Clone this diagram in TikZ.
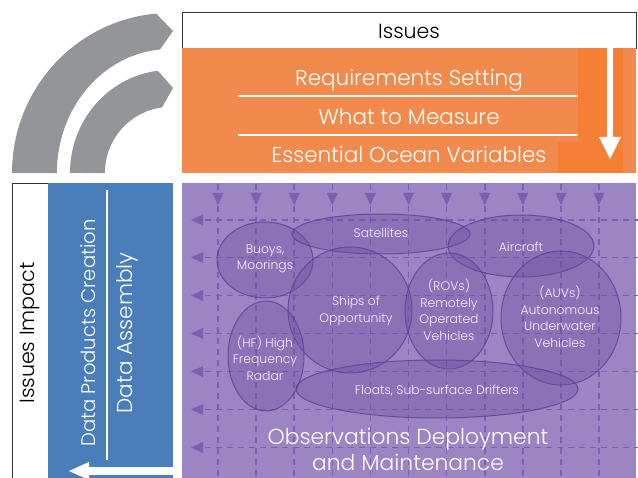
\documentclass[tikz,border=0pt]{standalone}
\usepackage{fontspec}
\setmainfont{Poppins}[UprightFont=* Light]
\usetikzlibrary{shapes.geometric}
\definecolor{orangeM}{HTML}{F18A4C}
\definecolor{orangeD}{HTML}{F57F35}
\definecolor{blueM}{HTML}{4A7EBB}
\definecolor{purpM}{HTML}{9D84C2}
\definecolor{gridC}{HTML}{7D5FB0}
\definecolor{ellF}{HTML}{6B4C9F}
\definecolor{ellD}{HTML}{5A3C92}
\definecolor{grayA}{HTML}{939598}
\definecolor{txtW}{HTML}{F4EFFA}
\begin{document}
\begin{tikzpicture}[x=1pt,y=-1pt,
  gridline/.style={gridC,line width=1.6pt,dash pattern=on 6pt off 5pt},
  gridtip/.style={fill=gridC,draw=none},
  blob/.style={ellipse,inner sep=0pt,fill=ellF,fill opacity=0.33,draw=ellD,draw opacity=0.75,line width=1pt},
  blobtxt/.style={text=txtW,font=\fontsize{12.4}{16.5}\selectfont,align=center,inner sep=0pt},
  bigtxt/.style={text=white,font=\fontsize{21.5}{26}\selectfont,inner sep=0pt},
  whitearrow/.style={draw=none,fill=white}]
\useasboundingbox (0,0) rectangle (638,478);
% gray arcs
\fill[grayA] (12,173) arc[start angle=180,end angle=265,x radius=158,y radius=160]
  -- (173,31) -- (160,49.5) arc[start angle=265,end angle=180,x radius=113,y radius=124] -- cycle;
\fill[grayA] (70,173) arc[start angle=180,end angle=263,x radius=100,y radius=103]
  -- (173,88) -- (162,107.5) arc[start angle=263,end angle=180,x radius=65,y radius=66] -- cycle;
% top boxes
\node[draw=black!80,line width=0.8pt,fill=white,minimum width=454pt,minimum height=36pt,anchor=north west,inner sep=0pt] (issues) at (182,12) {};
\node[font=\fontsize{20.5}{24}\selectfont,inner sep=0pt] (issuesT) at (409,31) {Issues};
\node[fill=orangeM,minimum width=454pt,minimum height=125pt,anchor=north west,inner sep=0pt] (orange) at (182,48) {};
\fill[orangeD] (578,48.5) rectangle (623,173);
\fill[orangeD] (558,142) rectangle (603,173);
\node[bigtxt] (req) at (409,80) {Requirements Setting};
\node[bigtxt] (what) at (409,117) {What to Measure};
\node[bigtxt] (eov) at (409,155) {Essential Ocean Variables};
\draw[white,line width=2pt] (238,96) -- (578,96);
\draw[white,line width=2pt] (238,135) -- (578,135);
\coordinate (dTop) at (610,48);
\coordinate (dTip) at (610,159);
\fill[white] (606.7,48) rectangle (613.3,137);
\fill[white] (599,137) -- (621,137) -- (dTip) -- cycle;
% left boxes
\node[draw=black!80,line width=0.8pt,fill=white,minimum width=36pt,minimum height=300pt,anchor=north west,inner sep=0pt] (impact) at (12,183) {};
\node[rotate=90,font=\fontsize{20.6}{24}\selectfont,inner sep=0pt] (impactT) at (30,333) {Issues Impact};
\node[fill=blueM,minimum width=125pt,minimum height=300pt,anchor=north west,inner sep=0pt] (blue) at (48,183) {};
\node[rotate=90,bigtxt,font=\fontsize{19.6}{24}\selectfont] (dpc) at (88,333) {Data Products Creation};
\node[rotate=90,bigtxt,font=\fontsize{21.6}{24}\selectfont] (da) at (127,333) {Data Assembly};
\draw[white,line width=2pt] (107,190) -- (107,460);
% purple
\node[fill=purpM,minimum width=454pt,minimum height=300pt,anchor=north west,inner sep=0pt] (purple) at (182,183) {};
\foreach \i in {0,...,10}{
  \pgfmathsetmacro{\xx}{218+38.1*\i}
  \draw[gridline] (\xx,184) -- (\xx,480);
  \fill[gridtip] (\xx-5.5,193) -- (\xx+5.5,193) -- (\xx,205) -- cycle;
}
\foreach \yy in {220,257.5,295.5,333.5,371.5,409.5,447.5}{
  \draw[gridline] (640,\yy) -- (192,\yy);
  \fill[gridtip] (191,\yy) -- (203,\yy-5.5) -- (203,\yy+5.5) -- cycle;
}
% ellipses
\node[blob,minimum width=96pt,minimum height=76pt] (buoys) at (265,260) {};
\node[blob,minimum width=178pt,minimum height=40pt] (sat) at (381,234) {};
\node[blob,minimum width=146pt,minimum height=62pt] (air) at (521,246) {};
\node[blob,minimum width=124pt,minimum height=126pt] (ships) at (350,310) {};
\node[blob,minimum width=88pt,minimum height=116pt] (rov) at (449,311) {};
\node[blob,minimum width=120pt,minimum height=134pt] (auv) at (561,318) {};
\node[blob,minimum width=76pt,minimum height=110pt] (hf) at (266,356) {};
\node[blob,minimum width=282pt,minimum height=58pt] (floats) at (437,389) {};
\node[blobtxt] (buoysT) at (265,259) {Buoys,\\Moorings};
\node[blobtxt] (satT) at (381,233) {Satellites};
\node[blobtxt] (airT) at (521,247) {Aircraft};
\node[blobtxt] (shipsT) at (356,311) {Ships of\\Opportunity};
\node[blobtxt] (rovT) at (449,310) {(ROVs)\\Remotely\\Operated\\Vehicles};
\node[blobtxt] (auvT) at (560,317) {(AUVs)\\Autonomous\\Underwater\\Vehicles};
\node[blobtxt] (hfT) at (265,358) {(HF) High\\Frequency\\Radar};
\node[blobtxt] (floatsT) at (437,391) {Floats, Sub-surface Drifters};
\node[text=white,font=\fontsize{21.8}{26.5}\selectfont,align=center,inner sep=0pt] (obs) at (408,449.5) {Observations Deployment\\and Maintenance};
% bottom-left arrow
\coordinate (lTip) at (69,471);
\fill[white] (89,467.5) rectangle (174,475);
\fill[white] (89,462) -- (89,480) -- (lTip) -- cycle;
\end{tikzpicture}
\end{document}
